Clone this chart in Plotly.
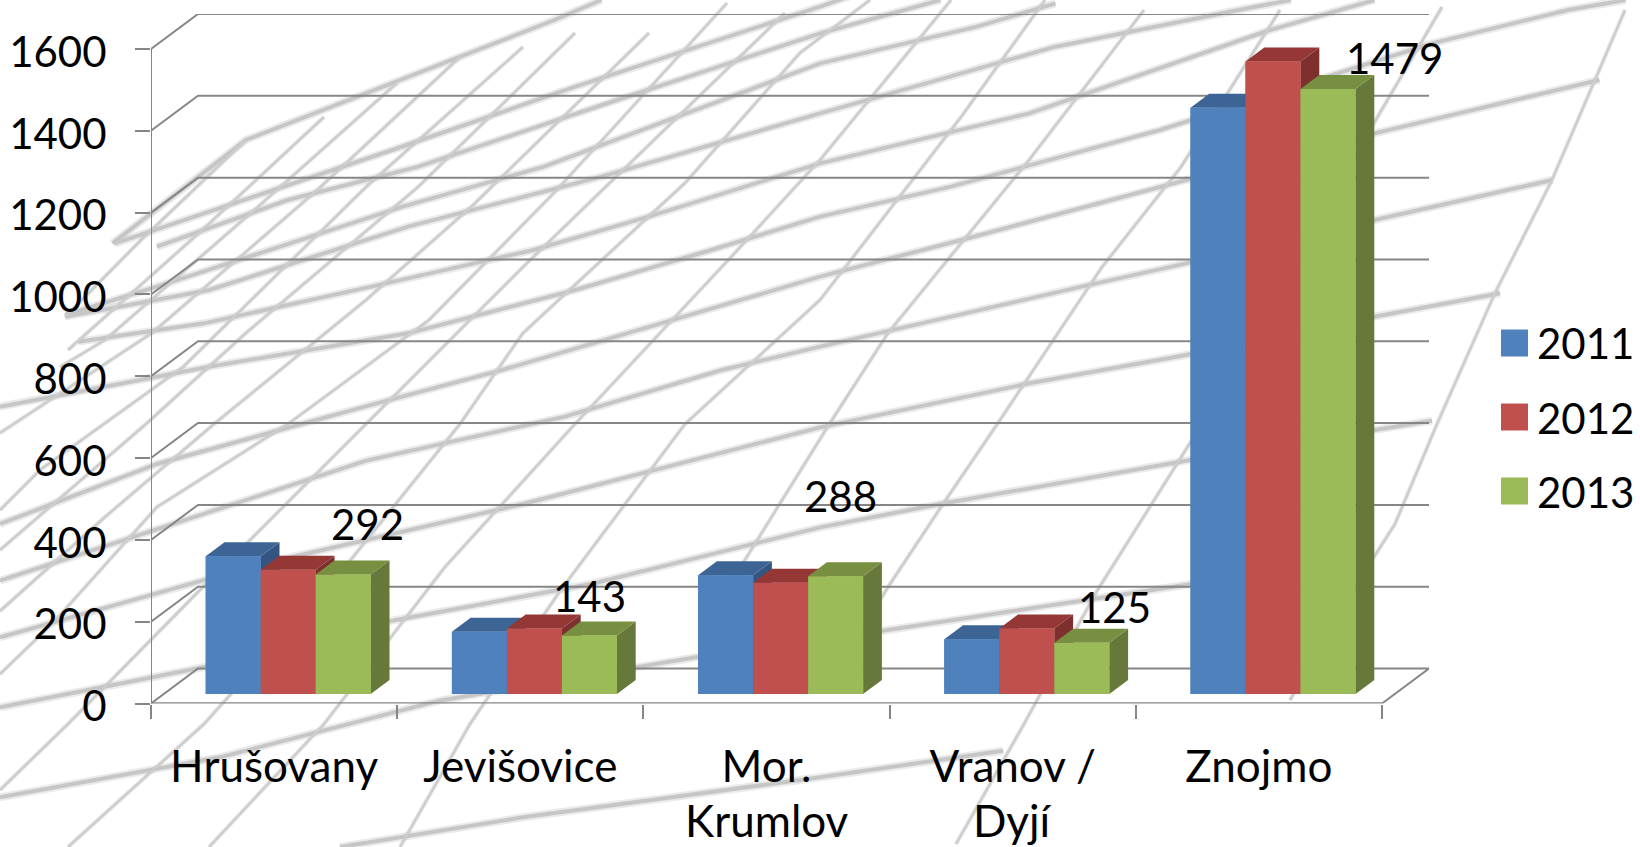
import plotly.graph_objects as go

categories = ["Hrušovany", "Jevišovice", "Mor.<br>Krumlov", "Vranov /<br>Dyjí", "Znojmo"]
years = ["2011", "2012", "2013"]
v2011 = [337, 152, 290, 134, 1433]
v2012 = [304, 160, 272, 160, 1546]
v2013 = [292, 143, 288, 125, 1479]
y_ticks = [0, 200, 400, 600, 800, 1000, 1200, 1400, 1600]
label_shift = [(24, -51), (0, -40), (5, -80), (33, -36), (66, -31)]

FONT = "Lato"
FS = 42
FS_CAT = 44
W, H = 1640, 847
AX_L, AX_R, Y0, Y1600 = 151, 1382, 703.5, 49
PX_X = (AX_R - AX_L) / 5
PX_Y = (Y0 - Y1600) / 1600
DX, DY = 47 / PX_X, 35 / PX_Y          # wall depth in data units
OX, OY = 0.3 * DX, 9.5 / PX_Y          # bars' front plane
BDX, BDY = 0.4 * DX, 0.4 * DY          # bars' depth
BW = 55 / PX_X
GRID = "#868686"
front = ["#4F81BD", "#C0504D", "#9BBB59"]
top = ["#3C6494", "#943735", "#778F41"]
side = ["#335580", "#7E302E", "#66793A"]

# Decorative photo-like background strokes (zoom-grid coordinates, not data)
shallow = [
    [(215,730),(470,420),(880,170),(1060,60),(1150,0)],
    [(220,730),(750,450),(1100,260),(1568,20),(1640,-20)],
    [(300,740),(550,600),(800,500),(1180,300),(1568,100),(1798,0)],
    [(125,945),(300,860),(770,620),(1040,500),(1568,190),(1868,80),(2018,10)],
    [(125,950),(400,870),(780,680),(1150,530),(1568,340),(2018,140),(2368,30),(2468,0)],
    [(150,1025),(390,970),(710,860),(1020,750),(1240,650),(1568,490),(1968,340),(2428,90),(2628,0)],
    [(0,1220),(400,1100),(780,1000),(1100,870),(1360,750),(1568,650),(1818,560),(2218,390),(2738,130),(2998,30),(3108,0)],
    [(0,1572),(300,1392),(720,1210),(960,1110),(1568,830),(1838,720),(2268,540),(2628,400),(3058,240)],
    [(0,1742),(700,1382),(1080,1250),(1380,1110),(1568,1040),(2068,860),(2268,790),(2628,660),(2968,540)],
    [(0,1912),(500,1692),(1000,1512),(1568,1282),(1968,1150),(2268,1065),(2628,950),(2868,880)],
    [(0,2122),(420,1992),(750,1862),(1130,1752),(1568,1582),(1798,1512),(2268,1382),(2738,1262)],
    [(0,2392),(420,2272),(840,2102),(1330,1972),(1688,1892),(2068,1802),(2278,1752)],
    [(650,2541),(1000,2452),(1568,2332),(1918,2252)],
]
steep = [
    [(1625,10),(1552,180),(1495,293),(1437,424),(1395,524),(1374,557),(1290,700)],
    [(1442,7),(1374,123),(1202,424),(1097,591),(1024,724),(956,844)],
    [(1280,10),(1181,167),(1102,267),(998,423),(945,501),(888,587),(850,650)],
    [(1144,10),(1029,160),(888,333),(830,423),(720,600)],
    [(1045,0),(961,117),(820,300),(685,424),(560,591),(470,724),(400,847)],
    [(951,0),(820,160),(732,256),(575,424),(445,567),(324,724),(209,847)],
    [(870,0),(800,53),(685,183),(523,333),(460,424),(345,567),(204,724),(68,847)],
    [(785,13),(523,267),(366,424),(199,591),(68,724),(0,790)],
    [(727,3),(554,193),(429,320),(288,424),(157,507),(52,624),(0,674)],
    [(649,33),(471,207),(366,300),(214,424),(105,517),(0,611)],
    [(575,33),(418,187),(246,333),(146,424),(0,550)],
    [(523,47),(366,187),(183,367),(40,470),(0,510)],
    [(460,57),(314,193),(152,333),(0,433)],
    [(397,83),(251,213),(105,340),(60,367)],
    [(324,117),(199,233),(68,350)],
    [(246,140),(141,240),(65,317)],
]

def path(pts):
    return "M " + " L ".join(f"{x/W:.5f},{1-y/H:.5f}" for x, y in pts)

shapes = []
def stroke(pts, w_soft, w_core, core):
    for w, c in ((w_soft, "rgba(190,190,190,0.32)"), (w_core, core)):
        shapes.append(dict(type="path", xref="paper", yref="paper", path=path(pts), layer="below",
                           line=dict(color=c, width=w)))
for line_pts in shallow:
    stroke([(x / 1.912, y / 3) for x, y in line_pts], 8, 4, "#C6C6C6")
for line_pts in steep:
    stroke(line_pts, 4.5, 2.5, "#CDCDCD")

# legend swatches, full size
LEG_Y = [343, 417, 491]
for j, yy in enumerate(LEG_Y):
    shapes.append(dict(type="rect", xref="paper", yref="paper", layer="above",
                       x0=1501 / W, x1=1528 / W, y0=1 - (yy + 13.5) / H, y1=1 - (yy - 13.5) / H,
                       fillcolor=front[j], line=dict(width=0)))

fig = go.Figure()
n = len(categories)
series = [v2011, v2012, v2013]
cx = [i + 0.5 for i in range(n)]

# real bars
for j, vals in enumerate(series):
    fig.add_bar(x=[c + OX + (j - 1) * BW for c in cx], y=vals, base=[OY] * n, width=BW,
                marker=dict(color=front[j], line=dict(width=0)), showlegend=False, hoverinfo="skip")

def line(xs, ys, w=2, color=GRID):
    fig.add_scatter(x=xs, y=ys, mode="lines", line=dict(color=color, width=w), showlegend=False, hoverinfo="skip")

def face(xs, ys, color):
    fig.add_scatter(x=xs + xs[:1], y=ys + ys[:1], mode="lines", fill="toself", fillcolor=color,
                    line=dict(width=0, color=color), showlegend=False, hoverinfo="skip")

# walls and floor
for v in y_ticks:
    line([0, DX, n + DX], [v, v + DY, v + DY])
line([n, n + DX], [0, DY])
line([0, 0], [0, 1600])
line([0, n], [0, 0], 2.5)

# 3-D faces in painter's order
for i in range(n):
    for j, vals in enumerate(series):
        xl = cx[i] + OX + (j - 1.5) * BW
        xr = xl + BW
        t = vals[i] + OY
        face([xr, xr + BDX, xr + BDX, xr], [OY, OY + BDY, t + BDY, t], side[j])
        face([xl, xr, xr + BDX, xl + BDX], [t, t, t + BDY, t + BDY], top[j])
        face([xl, xr, xr, xl], [OY, OY, t, t], front[j])

# legend entries (the small native marker sits under the full-size swatch)
for j, name in enumerate(years):
    fig.add_scatter(x=[None], y=[None], mode="markers", name=name, legendgroup=name,
                    marker=dict(symbol="square", size=12, color=front[j]))

ann = []
for i, (val, (sx, sy)) in enumerate(zip(v2013, label_shift)):
    ann.append(dict(x=cx[i] + OX + BW, y=val + OY, text=str(val), showarrow=False, xshift=sx, yshift=-sy,
                    font=dict(family=FONT, size=FS, color="black")))
first_lines = []
for i, c in enumerate(categories):
    parts = c.split("<br>")
    first_lines.append(parts[0])
    if len(parts) > 1:
        ann.append(dict(x=cx[i], y=0, text=parts[1], showarrow=False, yshift=-116,
                        font=dict(family=FONT, size=FS_CAT, color="black")))

dom_x = [AX_L / W, (AX_R + 47) / W]
dom_y = [1 - Y0 / H, 1 - (Y1600 - 35) / H]
fig.update_layout(
    template="none",
    width=W, height=H, margin=dict(l=0, r=0, t=0, b=0), paper_bgcolor="white", plot_bgcolor="rgba(0,0,0,0)",
    barmode="overlay", shapes=shapes, annotations=ann, font=dict(family=FONT, size=FS, color="black"),
    showlegend=True,
    legend=dict(x=1, y=1 - 309 / H, xanchor="right", yanchor="top", bgcolor="rgba(0,0,0,0)", borderwidth=0,
                tracegroupgap=17, itemsizing="trace", itemwidth=30, font=dict(family=FONT, size=FS)),
    xaxis=dict(domain=dom_x, range=[0, n + DX], tickmode="array", tickvals=cx, ticktext=first_lines,
               ticks="", showgrid=False, zeroline=False, showline=False, ticklabelstandoff=33, automargin=False,
               tickfont=dict(family=FONT, size=FS_CAT),
               minor=dict(tickmode="array", tickvals=list(range(n + 1)), ticks="outside", ticklen=14,
                          tickcolor=GRID, tickwidth=2, showgrid=False)),
    yaxis=dict(domain=dom_y, range=[0, 1600 + DY], tickmode="array", tickvals=y_ticks, ticks="outside",
               ticklen=15, tickcolor=GRID, tickwidth=2, showgrid=False, zeroline=False, showline=False,
               ticklabelstandoff=20, ticklabelshift=3, automargin=False, tickfont=dict(family=FONT, size=FS)),
)
fig.write_html("out.html", post_script="document.body.style.margin='0';", config=dict(displayModeBar=False))
